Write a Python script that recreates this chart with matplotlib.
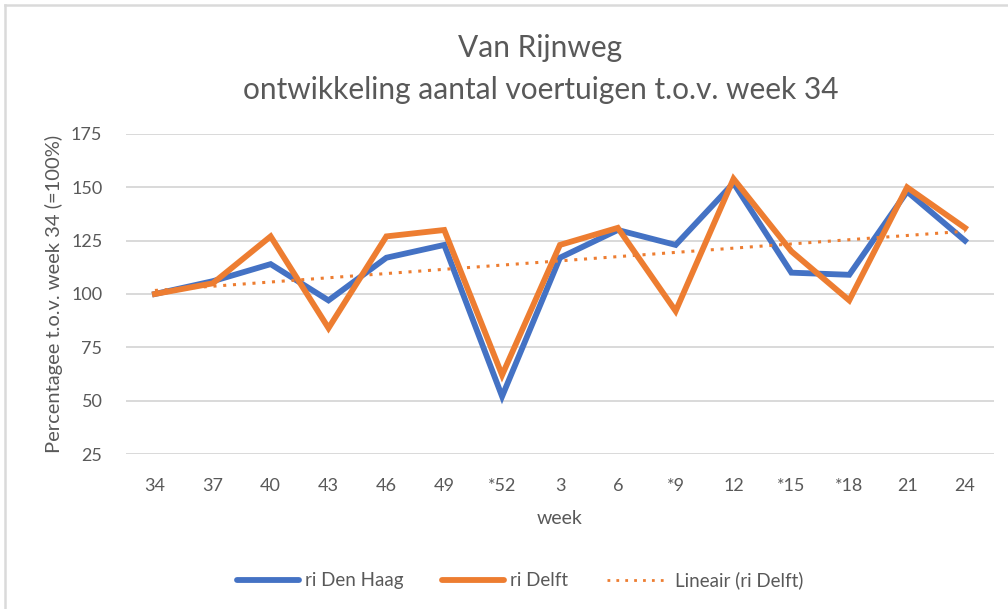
import matplotlib.pyplot as plt
import numpy as np
from matplotlib.lines import Line2D

weeks = ["34", "37", "40", "43", "46", "49", "*52", "3", "6", "*9", "12", "*15", "*18", "21", "24"]
den_haag = [100, 106, 114, 97, 117, 123, 52, 117, 130, 123, 152, 110, 109, 148, 125]
delft = [100, 105, 127, 84, 127, 130, 62, 123, 131, 92, 154, 120, 97, 150, 131]
y_ticks = [25, 50, 75, 100, 125, 150, 175]

BLUE = "#4472C4"
ORANGE = "#ED7D31"
GREY = "#595959"

plt.rcParams["font.family"] = ["Lato", "DejaVu Sans"]

fig = plt.figure(figsize=(10.08, 6.09), dpi=100)
ax = fig.add_axes([0.125, 0.2545, 0.861, 0.5255])

x = np.arange(len(weeks))
ax.plot(x, den_haag, color=BLUE, lw=4.2, solid_joinstyle="miter", label="ri Den Haag", zorder=3)
ax.plot(x, delft, color=ORANGE, lw=4.2, solid_joinstyle="miter", label="ri Delft", zorder=4)
slope, icpt = np.polyfit(x, delft, 1)
ax.plot(x, slope * x + icpt, color=ORANGE, lw=2.2, linestyle=(0, (1, 2.2)),
        label="Lineair (ri Delft)", zorder=5)

ax.set_xlim(-0.5, len(weeks) - 0.5)
ax.set_ylim(25, 175)
ax.set_xticks(x)
ax.set_xticklabels(weeks)
ax.set_yticks(y_ticks)
ax.grid(axis="y", color="#D9D9D9", lw=1.4)
ax.set_axisbelow(True)
for s in ax.spines.values():
    s.set_visible(False)
ax.tick_params(length=0, labelsize=13, labelcolor=GREY, pad=17)
ax.tick_params(axis="y", pad=17)
ax.set_xlabel("week", fontsize=14, color=GREY, labelpad=12)
ax.set_ylabel("Percentagee t.o.v. week 34 (=100%)", fontsize=14.5, color=GREY, labelpad=6)

fig.text(0.536, 0.921, "Van Rijnweg", ha="center", va="center", fontsize=21.5, color=GREY)
fig.text(0.536, 0.852, "ontwikkeling aantal voertuigen t.o.v. week 34", ha="center", va="center",
         fontsize=21.5, color=GREY)

handles = [Line2D([], [], color=BLUE, lw=4.2, solid_capstyle="round"),
           Line2D([], [], color=ORANGE, lw=4.2, solid_capstyle="round"),
           Line2D([], [], color=ORANGE, lw=2, linestyle=(0, (1, 2.2)))]
fig.legend(handles, ["ri Den Haag", "ri Delft", "Lineair (ri Delft)"], loc="center",
           bbox_to_anchor=(0.516, 0.047), ncol=3, frameon=False, fontsize=13.5,
           labelcolor=GREY, handlelength=3.3, handletextpad=0.3, columnspacing=2.1)

# light frame at top and left edge
fig.add_artist(Line2D([5 / 1008, 5 / 1008], [0, 1 - 5 / 609], color="#DADADA", lw=1.8))
fig.add_artist(Line2D([5 / 1008, 1], [1 - 5 / 609, 1 - 5 / 609], color="#DADADA", lw=1.8))

fig.savefig("out.png", dpi=100, facecolor="white")
